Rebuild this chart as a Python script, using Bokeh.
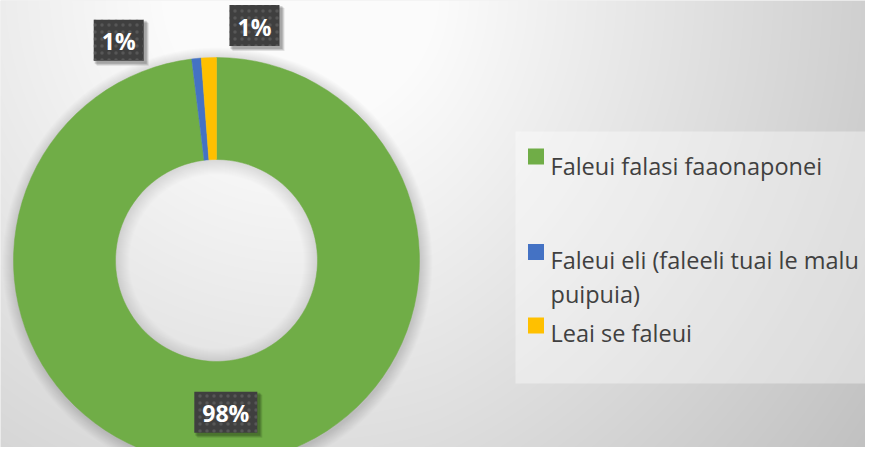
import numpy as np
from bokeh.plotting import figure
from bokeh.models import Range1d, ColumnDataSource
from bokeh.core.properties import value
from bokeh.embed import file_html
from bokeh.resources import INLINE

# ---------------- data ----------------
categories = ["Faleui falasi faaonaponei",
              "Faleui eli (faleeli tuai le malu puipuia)",
              "Leai se faleui"]
shares = [98.05, 0.75, 1.20]
colors = ["#70AD47", "#4472C4", "#FFC000"]
legend_lines = [["Faleui falasi faaonaponei"],
                ["Faleui eli (faleeli tuai le malu", "puipuia)"],
                ["Leai se faleui"]]

# ---------------- layout (reference pixel space) ----------------
W, H = 865, 447
REF_H = 463


def Y(py):
    return REF_H - py


CX, CY = 216, Y(260)
R_OUT, R_IN = 203, 101

p = figure(width=W, height=H, output_backend="svg", toolbar_location=None,
           x_range=Range1d(0, W), y_range=Range1d(REF_H - H, REF_H),
           min_border=0)
p.axis.visible = False
p.grid.visible = False
p.outline_line_color = None
p.background_fill_color = "#e6e6e6"
p.border_fill_color = "#e6e6e6"

# ---------------- background gradient ----------------
xs = np.arange(W) + 0.5
ys_ref = (H - 1 - np.arange(H)) + 0.5
gx, gy = np.meshgrid(xs, ys_ref)
r = np.hypot(gx - 300, gy + 10)
v = np.clip(251 - 0.09 * np.clip(r - 140, 0, None) - 0.012 * np.clip(gx - 440, 0, None),
            0, 255).astype(np.uint8)
img = np.empty((H, W), dtype=np.uint32)
view = img.view(dtype=np.uint8).reshape((H, W, 4))
view[:, :, 0] = v
view[:, :, 1] = v
view[:, :, 2] = v
view[:, :, 3] = 255
p.image_rgba(image=[img], x=0, y=REF_H - H, dw=W, dh=H)

# ---------------- donut shadows ----------------
sh_r = [R_OUT + k for k in range(1, 13)]
p.annulus(x=[CX + 1] * len(sh_r), y=[CY - 2] * len(sh_r),
          inner_radius=R_OUT - 3, outer_radius=sh_r,
          fill_color="black", fill_alpha=0.012, line_color=None)
in_r = [R_IN - k for k in range(1, 15)]
p.annulus(x=[CX] * len(in_r), y=[CY - 1] * len(in_r),
          inner_radius=in_r, outer_radius=R_IN + 3,
          fill_color="black", fill_alpha=0.009, line_color=None)

# ---------------- donut ----------------
total = sum(shares)
cum = np.cumsum([0] + shares)
start = [np.pi / 2 - 2 * np.pi * cum[i] / total for i in range(len(shares))]
end = [np.pi / 2 - 2 * np.pi * cum[i + 1] / total for i in range(len(shares))]
src = ColumnDataSource(dict(start=start, end=end, color=colors, cat=categories))
p.annular_wedge(x=CX, y=CY, inner_radius=R_IN, outer_radius=R_OUT,
                start_angle="start", end_angle="end", direction="clock",
                fill_color="color", line_color="color", line_width=0.5,
                source=src)

# ---------------- data labels ----------------
labels = [f"{round(s)}%" for s in shares]
mid = [(cum[i] + cum[i + 1]) / 2 / total for i in range(len(shares))]
r_mid = (R_IN + R_OUT) / 2
# label placement: first at ring middle, the two small ones dragged outside
lab_r = [r_mid, 241, 238]
lab_ang = [mid[0], -0.0665, 0.0255]  # fraction of turn, clockwise from top
lx = [CX + lab_r[i] * np.sin(2 * np.pi * lab_ang[i]) for i in range(3)]
ly = [CY + lab_r[i] * np.cos(2 * np.pi * lab_ang[i]) for i in range(3)]
bw = [24 + 13 * len(t) for t in labels]
bh = 41

for k, a in [(5, 0.10), (4, 0.12), (3, 0.15)]:
    p.rect(x=[x + k - 1 for x in lx], y=[y - k + 1 for y in ly],
           width=[w + 2 for w in bw], height=bh + 2,
           fill_color="black", fill_alpha=a, line_color=None)
p.rect(x=lx, y=ly, width=bw, height=bh, fill_color="#3f3f3f", line_color=None,
       hatch_pattern="dot", hatch_color="#575757", hatch_scale=7,
       hatch_weight=1.2)
p.text(x=lx, y=[y - 1 for y in ly], text=labels, text_color="white",
       text_font=value("Open Sans"), text_font_style="bold",
       text_font_size="23px", text_align="center", text_baseline="middle")

# ---------------- legend ----------------
p.quad(left=515, right=W + 2, top=Y(131), bottom=Y(383),
       fill_color="white", fill_alpha=0.38, line_color=None)

sq_y = [Y(156), Y(251.5), Y(325)]
p.rect(x=[535.5] * 3, y=sq_y, width=16, height=16, fill_color=colors,
       line_color=None)

base_first = [Y(165.5), Y(259.3), Y(332)]
line_gap = 34
tx, ty, tt = [], [], []
for i, lines in enumerate(legend_lines):
    for j, ln in enumerate(lines):
        tx.append(550)
        ty.append(base_first[i] - j * line_gap)
        tt.append(ln)
p.text(x=tx, y=ty, text=tt, text_color="#404040",
       text_font=value("Open Sans"), text_font_size="23.5px",
       text_align="left", text_baseline="alphabetic")

open("out.html", "w").write(file_html(p, INLINE))
